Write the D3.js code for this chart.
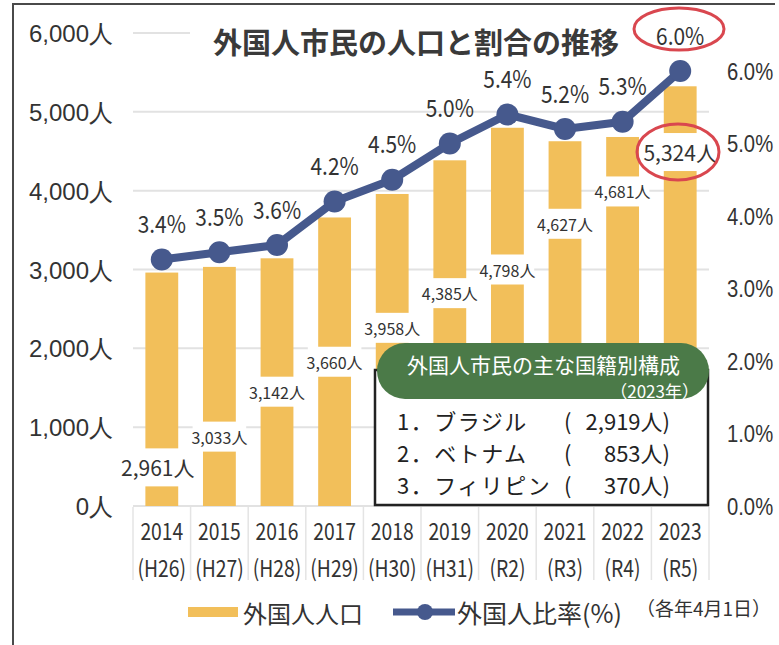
<!DOCTYPE html>
<html><head><meta charset="utf-8">
<script src="https://cdn.jsdelivr.net/npm/d3@7"></script>
<style>
html,body{margin:0;padding:0;background:#fff;}
svg{display:block;font-family:"Noto Sans CJK JP","Noto Sans",sans-serif;}
</style></head><body>
<svg id="chart" width="779" height="645"></svg>
<script>
// ---- data ----
const years = ["2014","2015","2016","2017","2018","2019","2020","2021","2022","2023"];
const eras = ["(H26)","(H27)","(H28)","(H29)","(H30)","(H31)","(R2)","(R3)","(R4)","(R5)"];
const population = [2961,3033,3142,3660,3958,4385,4798,4627,4681,5324];
const ratio = [3.4,3.5,3.6,4.2,4.5,5.0,5.4,5.2,5.3,6.0];
const labelLevels = [490,880,1450,1830,2260,2700,3000,3580,3990,4490]; // where each count label sits (people)
const leftTicks = [0,1000,2000,3000,4000,5000,6000];
const rightTicks = [0,1,2,3,4,5,6];
const nationalities = ["ブラジル","ベトナム","フィリピン"];
const natCounts = [2919,853,370];
const title = "外国人市民の人口と割合の推移";
const boxTitle = "外国人市民の主な国籍別構成";
const boxYear = "（2023年）";
const legendBar = "外国人人口";
const legendLine = "外国人比率(%)";
const legendNote = "（各年4月1日）";

// ---- setup ----
const W = 779, H = 645;
const BAR = "#f2bf5a", BLUE = "#46598d", GREEN = "#4b7a48", RED = "#d9474f", TXT = "#333";
const svg = d3.select("#chart");
svg.append("rect").attr("width", W).attr("height", H).attr("fill", "#fff");

const x = d3.scaleBand().domain(years).range([133, 709]).padding(0);
const yL = d3.scaleLinear().domain([0, 6000]).range([506, 33]);
const yR = d3.scaleLinear().domain([0, 6]).range([506, 71]);
const bw = x.bandwidth(), barW = bw * 0.57;
const cx = d => x(d) + bw / 2;

function stext(parent, px, py, str, size, anchor, sx, fill, weight) {
  const g = parent.append("g").attr("transform", `translate(${px},${py}) scale(${sx},1)`);
  return g.append("text").attr("text-anchor", anchor).attr("dominant-baseline", "central")
    .attr("font-size", size).attr("fill", fill || TXT).attr("font-weight", weight || 400).text(str);
}

// frame
svg.append("path").attr("d", "M13,645 L13,4 L775,4").attr("stroke", "#4a4a4a")
  .attr("stroke-width", 2).attr("fill", "none");

// gridlines
svg.append("g").selectAll("line").data(leftTicks).join("line")
  .attr("x1", 133).attr("x2", 709).attr("y1", d => yL(d)).attr("y2", d => yL(d))
  .attr("stroke", "#e2e2e2").attr("stroke-width", 2);

// category separators
svg.append("g").selectAll("line").data(d3.range(years.length + 1)).join("line")
  .attr("x1", i => 133 + i * bw).attr("x2", i => 133 + i * bw)
  .attr("y1", 507).attr("y2", 580).attr("stroke", "#e4e4e4").attr("stroke-width", 1.5);

// title (white background hides top gridline)
svg.append("rect").attr("x", 190).attr("y", 14).attr("width", 519).attr("height", 44).attr("fill", "#fff");
svg.append("text").attr("x", 416).attr("y", 41).attr("text-anchor", "middle").attr("dominant-baseline", "central")
  .attr("font-size", 29).attr("font-weight", 700).attr("fill", "#3a3a3a").text(title);

// left axis
const gl = svg.append("g").attr("transform", "translate(113,0)")
  .call(d3.axisLeft(yL).tickValues(leftTicks).tickFormat(d => d3.format(",")(d) + "人").tickSize(0).tickPadding(0));
gl.select(".domain").remove();
gl.selectAll("text").attr("font-size", 24).attr("fill", TXT).attr("font-family", null).attr("dy", "0.36em");

// right axis
const gr = svg.append("g").attr("transform", "translate(727,0)")
  .call(d3.axisRight(yR).tickValues(rightTicks).tickFormat(d => d.toFixed(1) + "%").tickSize(0).tickPadding(0));
gr.select(".domain").remove();
gr.selectAll("text").attr("font-size", 23).attr("fill", TXT).attr("font-family", null).attr("dy", "0.36em")
  .attr("transform", "scale(0.88,1)");

// x labels
years.forEach((yr, i) => {
  stext(svg, cx(yr), 530, yr, 23, "middle", 0.84);
  stext(svg, cx(yr), 567, eras[i], 23, "middle", 0.84);
});

// bars
svg.append("g").selectAll("rect").data(years).join("rect")
  .attr("x", d => x(d) + (bw - barW) / 2).attr("width", barW)
  .attr("y", (d, i) => yL(population[i])).attr("height", (d, i) => yL(0) - yL(population[i]))
  .attr("fill", BAR);

// bar labels with white gaps
years.forEach((yr, i) => {
  const big = (i === 0 || i === years.length - 1);
  const ly = yL(labelLevels[i]);
  const gap = big ? 19 : 15;
  svg.append("rect").attr("x", x(yr) + 2).attr("width", bw - 4).attr("y", ly - gap).attr("height", gap * 2).attr("fill", "#fff");
  stext(svg, cx(yr) - (i === 0 ? 4 : 0), ly, d3.format(",")(population[i]) + "人", big ? 21 : 16, "middle", 1);
});

// line
const line = d3.line().x((d, i) => cx(years[i])).y(d => yR(d));
svg.append("path").datum(ratio).attr("d", line).attr("fill", "none").attr("stroke", BLUE)
  .attr("stroke-width", 8).attr("stroke-linejoin", "round");
svg.append("g").selectAll("circle").data(ratio).join("circle")
  .attr("cx", (d, i) => cx(years[i])).attr("cy", d => yR(d)).attr("r", 11).attr("fill", BLUE);

// percentage labels
ratio.forEach((v, i) => {
  stext(svg, cx(years[i]), yR(v) - 37, v.toFixed(1) + "%", 24, "middle", 0.87);
});

// red ellipses
svg.append("ellipse").attr("cx", 679).attr("cy", 29).attr("rx", 45).attr("ry", 21)
  .attr("fill", "none").attr("stroke", RED).attr("stroke-width", 3);
svg.append("ellipse").attr("cx", 678).attr("cy", 152).attr("rx", 41).attr("ry", 28)
  .attr("fill", "none").attr("stroke", RED).attr("stroke-width", 3);

// nationality box
svg.append("rect").attr("x", 375).attr("y", 370).attr("width", 333).attr("height", 135)
  .attr("fill", "#fff").attr("stroke", "#222").attr("stroke-width", 2.5);
svg.append("rect").attr("x", 377).attr("y", 343).attr("width", 332).attr("height", 56).attr("rx", 28)
  .attr("fill", GREEN);
stext(svg, 407, 364, boxTitle, 21, "start", 1, "#fff");
stext(svg, 699, 390, boxYear, 17, "end", 1, "#fff");
const list = svg.append("text").attr("font-size", 22).attr("fill", "#222").attr("dominant-baseline", "central");
nationalities.forEach((n, i) => {
  const ry = 420 + i * 32;
  list.append("tspan").attr("x", 397).attr("y", ry).attr("letter-spacing", 1.5).text((i + 1) + "．" + n);
  list.append("tspan").attr("x", 564).attr("y", ry).text("(");
  list.append("tspan").attr("x", 670).attr("y", ry).attr("text-anchor", "end")
    .text(d3.format(",")(natCounts[i]) + "人)");
});

// legend
svg.append("line").attr("x1", 188).attr("x2", 238).attr("y1", 612).attr("y2", 612)
  .attr("stroke", BAR).attr("stroke-width", 10);
stext(svg, 243, 612, legendBar, 24, "start", 1);
svg.append("line").attr("x1", 393).attr("x2", 455).attr("y1", 612).attr("y2", 612)
  .attr("stroke", BLUE).attr("stroke-width", 7);
svg.append("circle").attr("cx", 425).attr("cy", 612).attr("r", 8).attr("fill", BLUE);
stext(svg, 457, 612, legendLine, 25, "start", 1);
stext(svg, 636, 607, legendNote, 19, "start", 1);
</script>
</body></html>
